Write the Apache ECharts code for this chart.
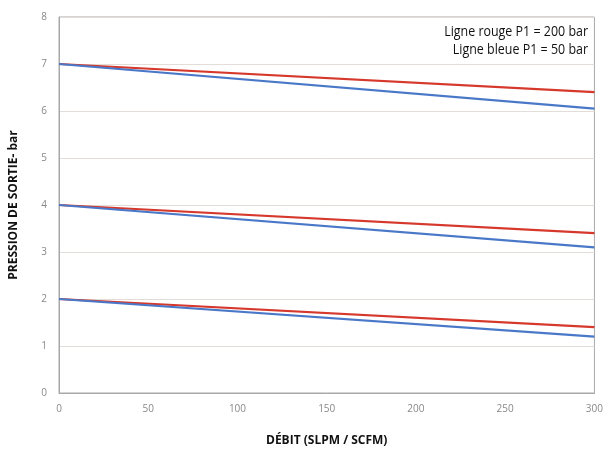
<!DOCTYPE html>
<html>
<head>
<meta charset="utf-8">
<script src="https://cdn.jsdelivr.net/npm/echarts@6/dist/echarts.min.js"></script>
<style>html,body{margin:0;padding:0;background:#fff}#c{width:606px;height:452px}</style>
</head>
<body>
<div id="c"></div>
<script>
var flow = [0, 300];
var red7 = [7.0, 6.4];
var red4 = [4.0, 3.4];
var red2 = [2.0, 1.4];
var blue7 = [7.0, 6.05];
var blue4 = [4.0, 3.1];
var blue2 = [2.0, 1.2];
var legendLines = ['Ligne rouge P1 = 200 bar', 'Ligne bleue P1 = 50 bar'];

function pts(vals) { return flow.map(function (x, i) { return [x, vals[i]]; }); }
var RED = '#d6382c', BLUE = '#4a78c8';
var cond = '"Liberation Sans Narrow", "Open Sans", sans-serif';
function line(name, vals, color, z) {
  return { name: name, type: 'line', data: pts(vals), showSymbol: false, symbol: 'none',
    lineStyle: { color: color, width: 2.2 }, z: z, animation: false };
}
var chart = echarts.init(document.getElementById('c'), null, { renderer: 'canvas' });
chart.setOption({
  animation: false,
  grid: { left: 57, right: 8, top: 17, bottom: 57, show: true, borderColor: '#a8a8a8', borderWidth: 1 },
  xAxis: {
    type: 'value', min: 0, max: 300, interval: 50,
    name: 'DÉBIT (SLPM / SCFM)', nameLocation: 'middle', nameGap: 42,
    nameTextStyle: { fontFamily: cond, fontWeight: 'bold', fontSize: 12, color: '#111' },
    axisLine: { show: true, lineStyle: { color: '#a8a8a8' } },
    axisTick: { show: false },
    splitLine: { show: false },
    axisLabel: { color: '#888', fontSize: 10, margin: 11, fontFamily: 'Open Sans, sans-serif' }
  },
  yAxis: {
    type: 'value', min: 0, max: 8, interval: 1,
    name: 'PRESSION DE SORTIE- bar', nameLocation: 'middle', nameGap: 39,
    nameTextStyle: { fontFamily: cond, fontWeight: 'bold', fontSize: 12, color: '#111' },
    axisLine: { show: true, lineStyle: { color: '#a8a8a8' } },
    axisTick: { show: false },
    splitLine: { show: true, lineStyle: { color: '#e2ddd8', width: 1 } },
    axisLabel: { color: '#888', fontSize: 10, margin: 12, fontFamily: 'Open Sans, sans-serif' }
  },
  graphic: [{
    type: 'text', x: 588, y: 23, scaleX: 0.83, z: 100,
    style: { text: legendLines.join('\n'), fill: '#111', font: '15px ' + cond, textAlign: 'right', textVerticalAlign: 'top', lineHeight: 18 }
  }],
  series: [
    line('r7', red7, RED, 2), line('r4', red4, RED, 2), line('r2', red2, RED, 2),
    line('b7', blue7, BLUE, 3), line('b4', blue4, BLUE, 3), line('b2', blue2, BLUE, 3)
  ]
});
</script>
</body>
</html>
